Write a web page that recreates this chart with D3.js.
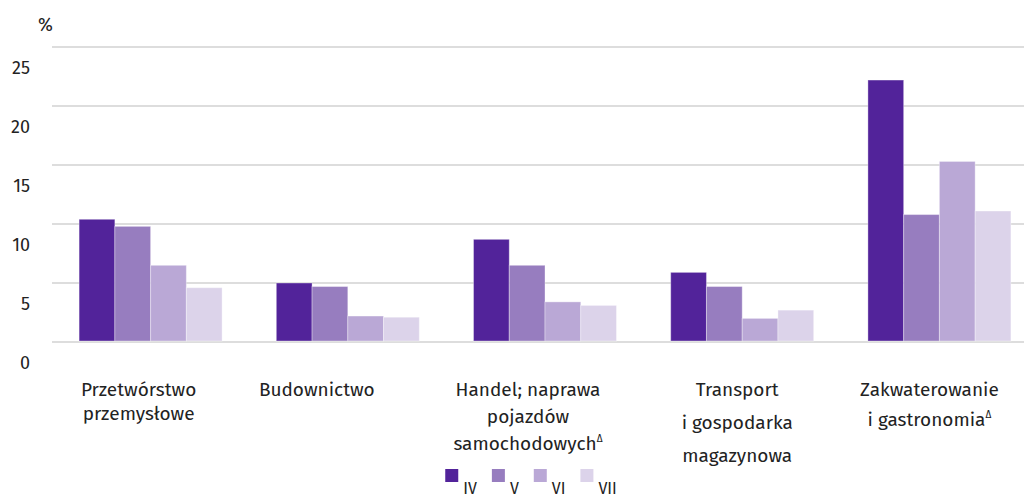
<!DOCTYPE html>
<html>
<head>
<meta charset="utf-8">
<script src="https://cdn.jsdelivr.net/npm/d3@7"></script>
<style>
  html, body { margin: 0; padding: 0; background: #fff; overflow: hidden; }
  text { font-family: "Fira Sans", "Open Sans", sans-serif; fill: #222222; }
</style>
</head>
<body>
<script>
// data
const categories = ['Przetwórstwo przemysłowe', 'Budownictwo', 'Handel; naprawa pojazdów samochodowych', 'Transport i gospodarka magazynowa', 'Zakwaterowanie i gastronomia']
const category_lines = [
    ['Przetwórstwo', 'przemysłowe'],
    ['Budownictwo'],
    ['Handel; naprawa', 'pojazdów', 'samochodowych'],
    ['Transport', 'i gospodarka', 'magazynowa'],
    ['Zakwaterowanie', 'i gastronomia'],
]
const category_delta = [false, false, true, false, true]
const months = ['IV', 'V', 'VI', 'VII']
const values_IV  = [10.4, 5.0, 8.7, 5.9, 22.2]
const values_V   = [9.8, 4.7, 6.5, 4.7, 10.8]
const values_VI  = [6.5, 2.2, 3.4, 2.0, 15.3]
const values_VII = [4.6, 2.1, 3.1, 2.7, 11.1]
const y_ticks = [0, 5, 10, 15, 20, 25]

const series = [values_IV, values_V, values_VI, values_VII]
const colors = ['#52239a', '#977dbf', '#baa8d6', '#dcd3ea']

// layout
const width = 1024, height = 499
const label_dx = [-12, -31, -17, -5, -10]
const label_line_h = [24, 24, 27, 33, 30]

const svg = d3.select('body').append('svg')
    .attr('width', width)
    .attr('height', height)

const x = d3.scaleBand()
    .domain(categories)
    .range([52, 1038])
    .paddingInner(0.275)
    .paddingOuter(0.1375)

const x_inner = d3.scaleBand()
    .domain(months)
    .range([0, x.bandwidth()])
    .padding(0)

const y = d3.scaleLinear()
    .domain([0, 25])
    .range([342, 47])

// grid lines
svg.append('g')
    .selectAll('line')
    .data(y_ticks)
    .enter()
    .append('line')
    .attr('x1', 52)
    .attr('x2', width)
    .attr('y1', d => y(d))
    .attr('y2', d => y(d))
    .style('stroke', '#dddddd')
    .style('stroke-width', 2)

// y labels, drawn under each line
svg.append('g')
    .selectAll('text')
    .data(y_ticks)
    .enter()
    .append('text')
    .text(d => d)
    .attr('x', 30)
    .attr('y', d => y(d) + 27)
    .attr('text-anchor', 'end')
    .style('font-size', '18px')

svg.append('text')
    .text('%')
    .attr('x', 38)
    .attr('y', 31)
    .style('font-size', '18px')

// bars
const groups = svg.append('g')
    .selectAll('g')
    .data(categories)
    .enter()
    .append('g')
    .attr('transform', d => `translate(${x(d)},0)`)

groups.selectAll('rect')
    .data((d, ci) => months.map((m, mi) => ({month: m, value: series[mi][ci], color: colors[mi]})))
    .enter()
    .append('rect')
    .attr('x', d => x_inner(d.month))
    .attr('width', x_inner.bandwidth())
    .attr('y', d => y(d.value))
    .attr('height', d => y(0) - y(d.value) - 1)
    .style('fill', d => d.color)
    .style('stroke', 'rgba(255,255,255,0.35)')
    .style('stroke-width', 1)

// category labels
categories.forEach((c, ci) => {
    const cx = x(c) + x.bandwidth() / 2 + label_dx[ci]
    const t = svg.append('text')
        .attr('text-anchor', 'middle')
        .style('font-size', '19px')
    const lines = category_lines[ci]
    lines.forEach((line, li) => {
        const ts = t.append('tspan')
            .attr('x', cx)
            .attr('y', 396 + li * label_line_h[ci])
            .text(line)
        if (category_delta[ci] && li === lines.length - 1) {
            ts.append('tspan')
                .text('Δ')
                .attr('dy', -8)
                .style('font-size', '10px')
        }
    })
})

// legend
const legend = svg.append('g')
let cursor = 0
months.forEach((m, i) => {
    const g = legend.append('g')
    g.append('rect')
        .attr('x', cursor)
        .attr('y', 469)
        .attr('width', 13)
        .attr('height', 13)
        .style('fill', colors[i])
    const t = g.append('text')
        .text(m)
        .attr('x', cursor + 18)
        .attr('y', 494)
        .style('font-size', '16px')
    cursor += 18 + t.node().getComputedTextLength() + 15
})
const legend_w = cursor - 15
legend.attr('transform', `translate(${531 - legend_w / 2},0)`)
</script>
</body>
</html>
